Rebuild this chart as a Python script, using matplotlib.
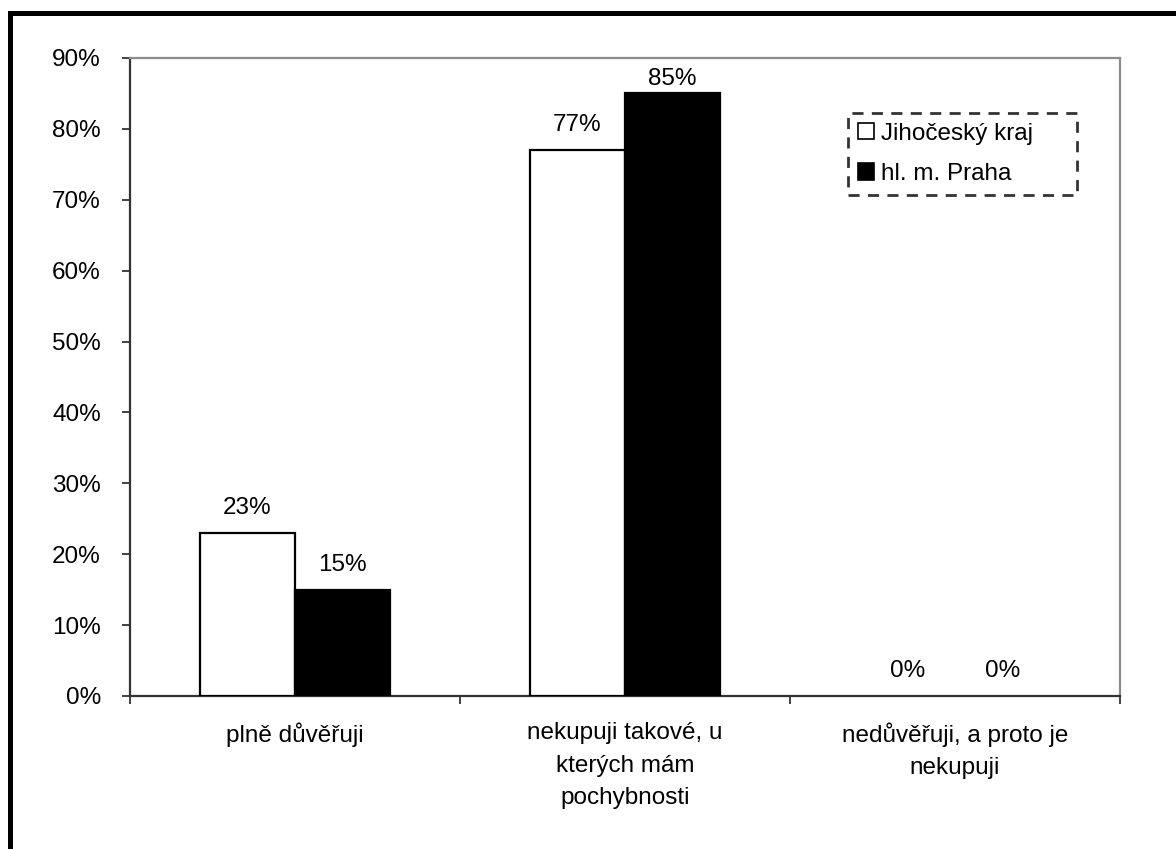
import matplotlib
matplotlib.use("Agg")
import matplotlib.pyplot as plt
import numpy as np
from matplotlib.patches import Rectangle

plt.rcParams['font.family'] = ['Liberation Sans', 'DejaVu Sans']

categories = ["plně důvěřuji",
              "nekupuji takové, u\nkterých mám\npochybnosti",
              "nedůvěřuji, a proto je\nnekupuji"]
series_names = ["Jihočeský kraj", "hl. m. Praha"]
jihocesky = [23, 77, 0]
praha = [15, 85, 0]
yticks = [0, 10, 20, 30, 40, 50, 60, 70, 80, 90]

W, H = 1176, 849
DPI = 100
FS = 17.5
fig = plt.figure(figsize=(W / DPI, H / DPI), dpi=DPI)
fig.patch.set_facecolor("white")

# outer frame (top and left edges)
fig.patches.append(Rectangle((8 / W, 0), 4.5 / W, (H - 11) / H, transform=fig.transFigure,
                             facecolor="black", edgecolor="none"))
fig.patches.append(Rectangle((8 / W, (H - 15.5) / H), 1 - 8 / W, 4.5 / H, transform=fig.transFigure,
                             facecolor="black", edgecolor="none"))

left, right, top, bottom = 130, 1120, 58, 696
ax = fig.add_axes([left / W, 1 - bottom / H, (right - left) / W, (bottom - top) / H])

x = np.arange(len(categories))
bw = 0.288
b1 = ax.bar(x - bw / 2, jihocesky, width=bw, facecolor="white", edgecolor="black", linewidth=1.6,
            label=series_names[0], zorder=3)
b2 = ax.bar(x + bw / 2, praha, width=bw, facecolor="black", edgecolor="black", linewidth=1.6,
            label=series_names[1], zorder=3)
# empty bars leave no outline on the axis
for bars, vals in ((b1, jihocesky), (b2, praha)):
    for patch, v in zip(bars, vals):
        if v == 0:
            patch.set_linewidth(0)

ax.set_xlim(-0.5, len(categories) - 0.5)
ax.set_ylim(0, 90)
ax.set_yticks(yticks)
ax.set_yticklabels([f"{t}%" for t in yticks])
ax.set_xticks(x)
ax.set_xticklabels(categories, linespacing=1.6)
ax.set_xticks(np.arange(len(categories) + 1) - 0.5, minor=True)

ax.tick_params(axis="y", which="major", length=6, width=1.3, color="#333333",
               labelsize=FS, pad=15)
ax.tick_params(axis="x", which="major", length=0, labelsize=FS, pad=19)
ax.tick_params(axis="x", which="minor", length=6, width=1.3, color="#333333")

for s in ("left", "bottom"):
    ax.spines[s].set_color("#333333")
    ax.spines[s].set_linewidth(1.6)
for s in ("top", "right"):
    ax.spines[s].set_color("#8c8c8c")
    ax.spines[s].set_linewidth(1.6)

# value labels, kept inside the plot area
gap_px = 19
top_px = ax.transData.transform((0, 90))[1]
for offs, vals in ((-bw / 2, jihocesky), (bw / 2, praha)):
    for xi, v in zip(x, vals):
        bar_top = ax.transData.transform((0, v))[1]
        base = min(bar_top + gap_px, top_px - 27)
        yd = ax.transData.inverted().transform((0, base))[1]
        ax.text(xi + offs, yd, f"{v}%", ha="center", va="baseline", fontsize=FS)

lx0 = (848 - left) / (right - left)
lx1 = (1077 - left) / (right - left)
ly1 = (bottom - 113) / (bottom - top)
leg = ax.legend(loc="upper left", bbox_to_anchor=(lx0, ly1 - 0.2, lx1 - lx0, 0.2),
                mode="expand", borderaxespad=0, fontsize=FS, handlelength=0.65,
                handleheight=0.65, handletextpad=0.3, labelspacing=0.75, borderpad=0.4,
                fancybox=False, frameon=True)
fr = leg.get_frame()
fr.set_edgecolor("black")
fr.set_linestyle((0, (4, 3)))
fr.set_linewidth(2)
for h in leg.legend_handles:
    h.set_linewidth(1.2)

fig.savefig("out.png", dpi=DPI, facecolor="white")
